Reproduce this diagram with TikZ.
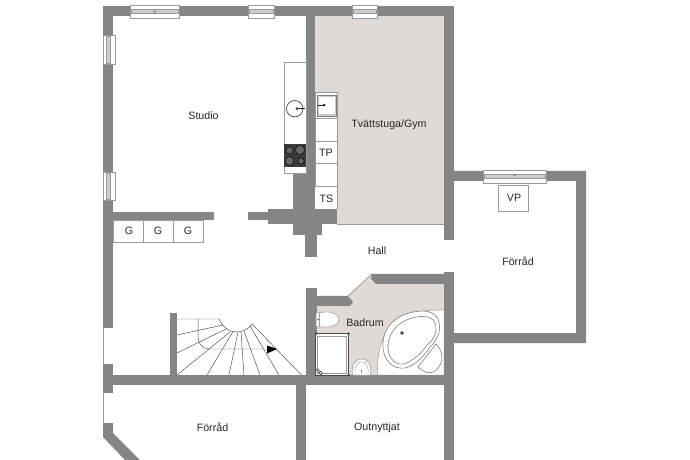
\documentclass[tikz,border=0pt]{standalone}
\usepackage{fontspec}
\setmainfont{Liberation Sans}
\definecolor{wallc}{HTML}{858585}
\definecolor{floorc}{HTML}{DFDAD5}
\definecolor{linec}{HTML}{9A9A9A}
\definecolor{darkline}{HTML}{555555}
\definecolor{hob}{HTML}{3A3A3A}
\tikzset{
  wall/.style={fill=wallc,draw=none},
  fit/.style={fill=white,draw=linec,line width=0.6pt},
  lab/.style={font=\fontsize{10.7}{12}\selectfont,text=black!85,inner sep=0pt},
  tread/.style={draw=darkline,line width=0.5pt},
  san/.style={draw=darkline!80,line width=0.55pt}
}
\newcommand{\hwindow}[3]{% x1,x2,ytop
  \fill[white,draw=linec,line width=0.5pt] (#1,#3) rectangle (#2,#3+12.5);
  \fill[black!20,draw=linec,line width=0.3pt] (#1+1,#3+3.5) rectangle (#2-1,#3+7.5);
}
\newcommand{\vwindow}[3]{% y1,y2,xleft
  \fill[white,draw=linec,line width=0.5pt] (#3,#1) rectangle (#3+12,#2);
  \fill[black!20,draw=linec,line width=0.3pt] (#3+3.5,#1+1) rectangle (#3+7.5,#2-1);
}
\begin{document}
\begin{tikzpicture}[x=1bp,y=-1bp]
\useasboundingbox[fill=white] (0,0) rectangle (690,460);

% floors
\fill[floorc] (315,16) rectangle (444,224);
\draw[linec,line width=0.5pt] (337,224) -- (444,224);
\fill[floorc] (317,300) -- (348,296) -- (372,274) -- (444,284) -- (444,375) -- (317,375) -- cycle;
\draw[darkline!70,line width=0.6pt] (348,296) -- (372,274);

% bathtub corner
\fill[white,draw=linec,line width=0.5pt] (378,375) .. controls (376,352) and (383,330) .. (398,320) .. controls (407,313) and (420,310) .. (444,310) -- (444,375) -- cycle;

% walls
\fill[wall] (103,6) rectangle (454,16);
\fill[wall] (103,6) rectangle (113,328);
\fill[wall] (444,6) rectangle (454,240);
\fill[wall] (306,6) rectangle (315,209);
\fill[wall] (113,212) rectangle (214,220);
\fill[wall] (248,212) rectangle (268,220);
\fill[wall] (268,209) rectangle (337,224);
\fill[wall] (293,173) rectangle (322,235);
\fill[wall] (305,235) rectangle (317,257);
% Forrad right
\fill[wall] (454,171) -- (586,171) -- (586,343) -- (454,343) -- (454,333) -- (576,333) -- (576,181) -- (454,181) -- cycle;
\fill[wall] (444,272) rectangle (454,460);
% cross walls
\fill[wall] (103,375) rectangle (454,385);
\fill[wall] (103,364) rectangle (113,393);
\fill[wall] (170,313) rectangle (177,375);
\fill[wall] (296,385) rectangle (306,460);
% bathroom walls
\fill[wall] (306,288) rectangle (317,385);
\fill[wall] (306,296) -- (348,296) -- (353,302) -- (350,306) -- (306,306) -- cycle;
\fill[wall] (372,274) -- (444,274) -- (444,284) -- (376,284) -- (371,279) -- cycle;
% diagonal wall lower left
\fill[wall] (103,423) -- (113,423) -- (113,433) -- (140,460) -- (125,460) -- (103,437) -- cycle;

% thin lines in openings
\draw[linec,line width=0.6pt] (103.3,328) -- (103.3,364) (103.3,393) -- (103.3,423);

% windows
\hwindow{130}{179}{5.5}
\hwindow{248}{274}{5.5}
\hwindow{352}{377}{5.5}
\hwindow{483}{546}{170.5}
\vwindow{35}{64}{103}
\vwindow{172}{200}{103}
\fill[linec] (153.5,9) rectangle (155.5,13) (513,174) rectangle (516,176);

% G cupboards
\draw[fit] (113,220) rectangle (143.5,242);
\draw[fit] (143.5,220) rectangle (173.5,242);
\draw[fit] (173.5,220) rectangle (203.5,242);

% kitchen bench
\draw[fit] (284,62) rectangle (306,173);
\fill[hob] (284,144) rectangle (306,167);
\foreach \cx/\cy/\r in {289.5/150.5/3.6, 300/150/4.6, 289.5/161/4.4, 301/161/3.2}{
  \fill[black!60,draw=black!90,line width=0.7pt] (\cx,\cy) circle (\r);
}
\draw[darkline,line width=0.8pt] (294.7,108.7) circle (8.2);
\draw[black!85,line width=0.7pt] (297,108.7) -- (305,108.7);
\draw[black!85,fill=white,line width=0.6pt] (297,108.7) circle (1.1);

% laundry bench
\draw[fit] (315,92) rectangle (337.5,118);
\draw[fit] (315,118) rectangle (337.5,141);
\draw[fit] (315,141) rectangle (337.5,163);
\draw[fit] (315,163) rectangle (337.5,186);
\fill[white] (315,186) rectangle (337.5,209);
\draw[linec,line width=0.6pt] (315,186) -- (337.5,186) -- (337.5,209);
\draw[black!50,fill=black!20,line width=0.6pt] (317,95) rectangle (336,116);
\fill[white] (318.5,97) rectangle (334.5,114);
\draw[black!90,line width=0.7pt] (317.5,105) -- (324,105);
\fill[black!90] (324.3,105) circle (1.4);

% VP box
\draw[fit] (498,185.5) rectangle (528,211);

% stairs
\draw[tread] (177,319) -- (219,319) .. controls (223,328) and (230,332) .. (236,332) .. controls (243,332) and (249,329) .. (252,324) -- (301.5,375);
\draw[tread] (177,335) -- (223,325);
\draw[tread] (177,353) -- (227,328.5);
\draw[tread] (177,375) -- (230,332);
\draw[tread] (207,375) -- (233,331.5);
\draw[tread] (229,375) -- (238,332);
\draw[tread] (244,375) -- (241,332);
\draw[tread] (260,375) -- (244,331);
\draw[tread] (279,375) -- (250,326);
\draw[tread] (198,319) -- (198,337) .. controls (198,343) and (202,349) .. (209,349) -- (268,349);
\fill[black] (267,345.5) -- (277,349) -- (267,353.5) -- cycle;

% bathroom fixtures
\fill[white,draw=linec,line width=0.5pt] (316,313) -- (325,312) .. controls (333,311.5) and (339,315) .. (339,319.5) .. controls (339,324) and (333,327.5) .. (325,327) -- (316,326.5) -- cycle;
\draw[linec,line width=0.5pt] (319.5,312.8) -- (319.5,326.8);
\fill[black!70] (318,319.5) circle (0.8);

\fill[white,draw=black!70,line width=0.6pt] (315.5,333.5) rectangle (348.5,375);
\draw[linec,line width=0.5pt] (317.5,336) rectangle (346.5,373);
\fill[black!75] (315,332.5) rectangle (317,334.5) (347.5,332.5) rectangle (349.5,334.5) (347.5,374) rectangle (349.5,376);
\draw[black!80,fill=white,line width=0.6pt] (317.5,368.5) -- (322,373) -- (321,374.5) -- (316.5,370) -- cycle;
\draw[black!80,fill=white,line width=0.5pt] (320.5,373) circle (1.7);

\fill[white,draw=linec,line width=0.5pt] (352.5,375) .. controls (351,365) and (355,359) .. (361.5,359) .. controls (368,359) and (372,365) .. (370.5,375) -- cycle;
\draw[linec,line width=0.4pt] (354.5,371) .. controls (356,364) and (358,362) .. (361.5,362) .. controls (365,362) and (367,364) .. (368.5,371);
\draw[linec,line width=0.4pt] (361.5,369) -- (361.5,373);

\draw[san,fill=white] (436,344) .. controls (443,351) and (445,362) .. (436,370) .. controls (430,375) and (425,373) .. (418,367) -- cycle;
\draw[san,fill=white] (383,343) .. controls (384,326) and (396,316) .. (411,312.5) .. controls (424,309.5) and (434,311) .. (438,319) .. controls (442,329) and (438,340) .. (430,347) .. controls (424,356) and (416,365) .. (405,368) .. controls (393,370) and (382,360) .. (383,343) -- cycle;
\draw[san] (388,344) .. controls (390,331) and (398,322) .. (412,318) .. controls (423,315) and (432,316) .. (435,323) .. controls (438,331) and (434,340) .. (427,345) .. controls (421,354) and (413,361) .. (404,364) .. controls (394,366) and (387,356) .. (388,344) -- cycle;
\draw[black!90,fill=black!40,line width=0.7pt] (402,333) circle (1.5);

% labels
\node[lab] (studio) at (203.5,116) {Studio};
\node[lab] (gym) at (389,124.5) {Tvättstuga/Gym};
\node[lab] (tp) at (326,153) {TP};
\node[lab] (ts) at (326.5,199) {TS};
\node[lab] (vp) at (514,198) {VP};
\node[lab] (g1) at (129,231) {G};
\node[lab] (g2) at (158,231) {G};
\node[lab] (g3) at (188,231) {G};
\node[lab] (hall) at (377,250.5) {Hall};
\node[lab] (forrad1) at (518,261) {Förråd};
\node[lab] (badrum) at (365,323) {Badrum};
\node[lab] (forrad2) at (212.5,427) {Förråd};
\node[lab] (outn) at (377,428) {Outnyttjat};
\end{tikzpicture}
\end{document}
